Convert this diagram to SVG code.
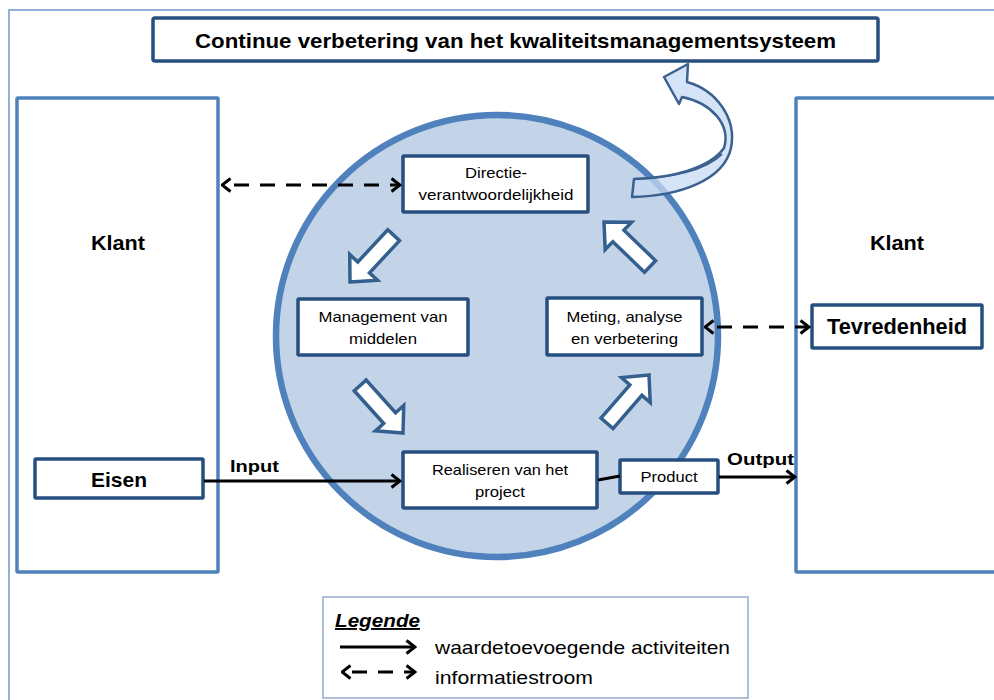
<svg xmlns="http://www.w3.org/2000/svg" width="994" height="700" viewBox="0 0 994 700">
  <defs>
    <style>
      .frame { fill: none; stroke: #6f98cc; stroke-width: 1.5; }
      .klant { fill: #ffffff; stroke: #4f81bd; stroke-width: 3.5; }
      .node { fill: #ffffff; stroke: #264f80; stroke-width: 3.5; }
      .blk { fill: #ffffff; stroke: #34608f; stroke-width: 3.5; stroke-linejoin: miter; }
      .t { font-family: "Liberation Sans", Arial, sans-serif; fill: #000000; }
      .b { font-weight: bold; }
      .flow { fill: none; stroke: #000000; stroke-width: 3; }
      .info { fill: none; stroke: #000000; stroke-width: 3.2; stroke-dasharray: 15 11; }
    </style>
    <marker id="chev" viewBox="0 0 12 16" refX="10.5" refY="8" markerWidth="12" markerHeight="16" markerUnits="userSpaceOnUse" orient="auto-start-reverse">
      <path d="M2,1.5 L10.5,8 L2,14.5" fill="none" stroke="#000000" stroke-width="3" stroke-dasharray="none"/>
    </marker>
    <path id="blockArrow" d="M0,0 L-20,-19 L-20,-8 L-64,-8 L-64,8 L-20,8 L-20,19 Z"/>
  </defs>

  <rect width="994" height="700" fill="#ffffff"/>

  <!-- outer frame -->
  <rect class="frame" x="9" y="10" width="1000" height="700"/>

  <!-- customer columns -->
  <g id="klant-links">
    <rect class="klant" x="17" y="98" width="201" height="474" rx="1"/>
    <text class="t b" x="118" y="250" font-size="20" text-anchor="middle" textLength="54" lengthAdjust="spacingAndGlyphs">Klant</text>
  </g>
  <g id="klant-rechts">
    <rect class="klant" x="796" y="98" width="210" height="474" rx="1"/>
    <text class="t b" x="897" y="250" font-size="20" text-anchor="middle" textLength="54" lengthAdjust="spacingAndGlyphs">Klant</text>
  </g>

  <!-- quality management cycle -->
  <g id="cyclus">
    <circle cx="497" cy="336" r="221" fill="#c3d4e9" stroke="#4f81bd" stroke-width="6.5"/>
  </g>

  <!-- continuous improvement ribbon arrow -->
  <g id="verbeterpijl">
    <path d="M632,197 L634,179 C672,178 710,168 724,148 C731,125 712,103 682,97 L679,104 L664,77 L688,64 L687,82 C716,90 737,118 731,148 C724,180 680,196 632,197 Z" fill="#c6d9f1" fill-opacity="0.75" stroke="#3a6190" stroke-width="2.5" stroke-linejoin="round"/>
    <path d="M634,179 C672,178 706,170 722,154" fill="none" stroke="#3a6190" stroke-width="2"/>
  </g>

  <!-- title -->
  <g id="titel">
    <rect class="node" x="153" y="18" width="725" height="43" rx="2"/>
    <text class="t b" x="515.5" y="48" font-size="21" text-anchor="middle" textLength="641" lengthAdjust="spacingAndGlyphs">Continue verbetering van het kwaliteitsmanagementsysteem</text>
  </g>

  <!-- cycle arrows -->
  <g id="cyclus-pijlen">
    <use href="#blockArrow" class="blk" transform="translate(350,282) rotate(133)"/>
    <use href="#blockArrow" class="blk" transform="translate(403,433) rotate(48)"/>
    <use href="#blockArrow" class="blk" transform="translate(649,375) rotate(-49)"/>
    <use href="#blockArrow" class="blk" transform="translate(604,222) rotate(-136)"/>
  </g>

  <g id="directie">
    <rect class="node" x="403" y="156" width="185" height="56" rx="1"/>
    <text class="t" x="496" y="178" font-size="15" text-anchor="middle" textLength="62" lengthAdjust="spacingAndGlyphs">Directie-</text>
    <text class="t" x="496" y="200" font-size="15" text-anchor="middle" textLength="155" lengthAdjust="spacingAndGlyphs">verantwoordelijkheid</text>
  </g>

  <g id="management">
    <rect class="node" x="298" y="299" width="170" height="56" rx="1"/>
    <text class="t" x="383" y="322" font-size="15" text-anchor="middle" textLength="129" lengthAdjust="spacingAndGlyphs">Management van</text>
    <text class="t" x="383" y="344" font-size="15" text-anchor="middle" textLength="68" lengthAdjust="spacingAndGlyphs">middelen</text>
  </g>

  <g id="meting">
    <rect class="node" x="547" y="298" width="155" height="57" rx="1"/>
    <text class="t" x="624.5" y="322" font-size="15" text-anchor="middle" textLength="116" lengthAdjust="spacingAndGlyphs">Meting, analyse</text>
    <text class="t" x="624.5" y="344" font-size="15" text-anchor="middle" textLength="107" lengthAdjust="spacingAndGlyphs">en verbetering</text>
  </g>

  <g id="realiseren">
    <rect class="node" x="403" y="452" width="194" height="56" rx="1"/>
    <text class="t" x="500" y="475" font-size="15" text-anchor="middle" textLength="136" lengthAdjust="spacingAndGlyphs">Realiseren van het</text>
    <text class="t" x="500" y="497" font-size="15" text-anchor="middle" textLength="50" lengthAdjust="spacingAndGlyphs">project</text>
  </g>

  <g id="product">
    <rect class="node" x="620" y="460" width="98" height="33" rx="1"/>
    <text class="t" x="669" y="482" font-size="15" text-anchor="middle" textLength="57" lengthAdjust="spacingAndGlyphs">Product</text>
  </g>

  <g id="eisen">
    <rect class="node" x="35" y="459" width="168" height="39" rx="1"/>
    <text class="t b" x="119" y="487" font-size="21" text-anchor="middle" textLength="56" lengthAdjust="spacingAndGlyphs">Eisen</text>
  </g>

  <g id="tevredenheid">
    <rect class="node" x="812" y="305" width="170" height="43" rx="1"/>
    <text class="t b" x="897" y="334" font-size="22" text-anchor="middle" textLength="140" lengthAdjust="spacingAndGlyphs">Tevredenheid</text>
  </g>

  <!-- connectors -->
  <g id="verbindingen">
    <line class="info" x1="222" y1="185" x2="400" y2="185" stroke-dashoffset="-12" marker-start="url(#chev)" marker-end="url(#chev)"/>
    <line class="info" x1="705" y1="327" x2="809" y2="327" stroke-dashoffset="-12" marker-start="url(#chev)" marker-end="url(#chev)"/>
    <line class="flow" x1="204" y1="481" x2="400" y2="481" marker-end="url(#chev)"/>
    <line class="flow" x1="598" y1="480" x2="620" y2="476"/>
    <line class="flow" x1="719" y1="477" x2="795" y2="477" marker-end="url(#chev)"/>
    <text class="t b" x="230" y="472" font-size="17" textLength="49" lengthAdjust="spacingAndGlyphs">Input</text>
    <text class="t b" x="727" y="465" font-size="17" textLength="67" lengthAdjust="spacingAndGlyphs">Output</text>
  </g>

  <!-- legend -->
  <g id="legende">
    <rect x="323" y="597" width="425" height="101" fill="#ffffff" stroke="#95acc9" stroke-width="1.5"/>
    <text class="t b" x="335" y="627" font-size="19" font-style="italic" textLength="85" lengthAdjust="spacingAndGlyphs" text-decoration="underline">Legende</text>
    <line class="flow" x1="340" y1="647" x2="415" y2="647" marker-end="url(#chev)"/>
    <text class="t" x="435" y="654" font-size="19" textLength="295" lengthAdjust="spacingAndGlyphs">waardetoevoegende activiteiten</text>
    <line class="info" x1="342" y1="672" x2="415" y2="672" stroke-dasharray="13 11" stroke-dashoffset="-10" marker-start="url(#chev)" marker-end="url(#chev)"/>
    <text class="t" x="435" y="684" font-size="19" textLength="158" lengthAdjust="spacingAndGlyphs">informatiestroom</text>
  </g>
</svg>
